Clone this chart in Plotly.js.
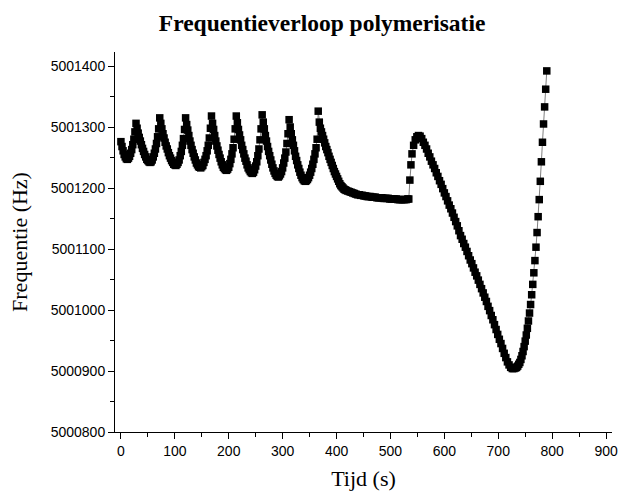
<!DOCTYPE html>
<html>
<head>
<meta charset="utf-8">
<script src="https://cdn.plot.ly/plotly-3.0.1.min.js"></script>
<style>html,body{margin:0;padding:0;background:#fff;}#chart{width:623px;height:493px;}</style>
</head>
<body>
<div id="chart"></div>
<script>
// Time (s)
var tijd = [
0,2,4,6,8,10,12,
14,16,18,20,22,24,26,28,
30,32,34,36,38,40,42,44,46,48,50,52,54,
56,58,60,62,64,66,68,70,72,
74,76,78,80,82,84,86,88,90,92,94,96,98,100,102,
104,106,108,110,112,114,116,118,120,
122,124,126,128,130,132,134,136,138,140,142,144,146,148,
150,152,154,156,158,160,162,164,166,168,
170,172,174,176,178,180,182,184,186,188,190,192,194,196,
198,200,202,204,206,208,210,212,214,
216,218,220,222,224,226,228,230,232,234,236,238,240,242,244,
246,248,250,252,254,256,258,260,262,
264,266,268,270,272,274,276,278,280,282,284,286,288,290,292,
294,296,298,300,302,304,306,308,310,312,
314,316,318,320,322,324,326,328,330,332,334,336,338,340,342,
344,346,348,350,352,354,356,358,360,362,364,366,
368,370,372,374,376,378,380,382,384,386,388,390,392,394,396,398,400,402,404,406,408,410,412,414,416,418,
421,424,427,430,433,436,439,442,445,448,451,454,457,460,463,466,469,472,475,478,481,
484,487,490,493,496,499,502,505,508,511,514,517,520,523,526,529,532,534,
536,538,540,543,546,549,552,555,558,
561,564,567,570,573,576,579,582,585,588,591,594,597,600,603,606,609,612,615,618,621,624,627,630,
633,636,639,642,645,648,651,654,657,660,663,666,669,672,675,678,681,684,687,690,693,696,699,702,
705,708,711,714,717,720,723,726,729,732,
734,736,738,740,742,744,746,748,750,752,754,756,758,760,762,764,766,768,770,772,774,776,778,780,
782,784,786,788,790
];
// Frequency (Hz)
var frequentie = [
5001276,5001268,5001261,5001255,5001251,5001248,5001247,
5001249,5001252,5001257,5001263,5001271,5001280,5001292,5001306,
5001298,5001290,5001283,5001277,5001271,5001265,5001260,5001255,5001251,5001247,5001245,5001243,5001242,
5001243,5001246,5001251,5001257,5001264,5001273,5001284,5001297,5001315,
5001306,5001297,5001289,5001282,5001275,5001269,5001264,5001258,5001253,5001249,5001245,5001242,5001239,5001238,5001237,
5001239,5001242,5001246,5001253,5001260,5001270,5001281,5001296,5001315,
5001304,5001295,5001286,5001277,5001270,5001263,5001257,5001251,5001246,5001241,5001238,5001235,5001234,5001233,
5001235,5001237,5001242,5001247,5001253,5001261,5001270,5001282,5001298,5001318,
5001306,5001296,5001286,5001277,5001269,5001262,5001255,5001249,5001243,5001238,5001234,5001232,5001230,5001229,
5001231,5001234,5001240,5001247,5001256,5001266,5001280,5001297,5001318,
5001307,5001296,5001287,5001279,5001270,5001263,5001256,5001249,5001244,5001238,5001233,5001230,5001227,5001225,5001224,
5001226,5001230,5001236,5001243,5001253,5001264,5001279,5001297,5001320,
5001308,5001297,5001286,5001277,5001268,5001260,5001253,5001246,5001239,5001233,5001228,5001224,5001221,5001219,5001218,
5001220,5001223,5001227,5001233,5001241,5001249,5001259,5001273,5001289,5001312,
5001300,5001289,5001279,5001270,5001261,5001252,5001245,5001238,5001232,5001226,5001221,5001217,5001214,5001212,5001211,
5001212,5001214,5001217,5001221,5001226,5001232,5001239,5001247,5001256,5001266,5001280,5001326,
5001308,5001298,5001292,5001286,5001280,5001274,5001268,5001263,5001258,5001252,5001247,5001242,5001237,5001232,5001227,5001223,5001219,5001215,5001211,5001207,5001204,5001202,5001200,5001198,5001197,5001196,
5001195,5001194,5001193,5001192,5001191,5001190,5001189,5001189,5001188,5001188,5001187,5001187,5001186,5001186,5001186,5001185,5001185,5001185,5001184,5001184,5001184,
5001184,5001183,5001183,5001183,5001183,5001182,5001182,5001182,5001182,5001182,5001181,5001181,5001181,5001181,5001181,5001181,5001182,5001182,
5001213,5001238,5001256,5001270,5001279,5001284,5001286,5001285,5001281,
5001275,5001270,5001264,5001257,5001251,5001244,5001238,5001232,5001225,5001219,5001212,5001206,5001199,5001192,5001186,5001179,5001172,5001166,5001159,5001152,5001145,5001138,5001130,5001122,
5001116,5001109,5001103,5001096,5001089,5001082,5001076,5001069,5001062,5001056,5001049,5001042,5001035,5001028,5001021,5001014,5001006,5000999,5000991,5000984,5000976,5000968,5000960,5000952,
5000945,5000937,5000929,5000922,5000915,5000910,5000906,5000904,5000904,5000905,
5000906,5000908,5000911,5000914,5000919,5000925,5000932,5000940,5000949,5000959,5000970,5000982,5000995,5001009,5001025,5001042,5001061,5001081,5001103,5001127,5001153,5001181,5001211,5001243,
5001275,5001305,5001333,5001362,5001392
];
var titel = 'Frequentieverloop polymerisatie';
var xTitel = 'Tijd (s)';
var yTitel = 'Frequentie (Hz)';

var serif = 'Liberation Serif, Times New Roman, serif';
var sans = 'Liberation Sans, Arial, sans-serif';

var trace = {
  x: tijd, y: frequentie, type: 'scatter', mode: 'lines+markers',
  line: {color: '#808080', width: 1},
  marker: {symbol: 'square', size: 7.5, color: '#000', line: {width: 0}}
};

var layout = {
  width: 623, height: 493,
  margin: {l: 115, r: 11, t: 52, b: 61},
  paper_bgcolor: '#fff', plot_bgcolor: '#fff',
  showlegend: false,
  title: {text: titel, x: 0.517, xref: 'container', xanchor: 'center', y: 0.953, yref: 'container', yanchor: 'middle',
          font: {family: serif, size: 23.5, color: '#000', weight: 'bold'}},
  xaxis: {
    range: [-11, 911], tick0: 0, dtick: 100, ticks: 'outside', ticklen: 6, tickcolor: '#000',
    showline: true, linecolor: '#000', linewidth: 1, showgrid: false, zeroline: false,
    minor: {ticks: 'outside', dtick: 50, tick0: 0, ticklen: 4, tickcolor: '#000', showgrid: false},
    tickfont: {family: sans, size: 14, color: '#000'},
    title: {text: xTitel, font: {family: serif, size: 22, color: '#000'}, standoff: 12},
    automargin: false
  },
  yaxis: {
    range: [5000800, 5001423], tick0: 5000800, dtick: 100, ticks: 'outside', ticklen: 6, tickcolor: '#000',
    tickformat: 'd',
    showline: true, linecolor: '#000', linewidth: 1, showgrid: false, zeroline: false,
    minor: {ticks: 'outside', dtick: 50, tick0: 5000800, ticklen: 4, tickcolor: '#000', showgrid: false},
    tickfont: {family: sans, size: 14, color: '#000'},
    title: {text: yTitel, font: {family: serif, size: 22, color: '#000'}, standoff: 16},
    automargin: false
  }
};

Plotly.newPlot('chart', [trace], layout, {displayModeBar: false, staticPlot: true});
</script>
</body>
</html>
